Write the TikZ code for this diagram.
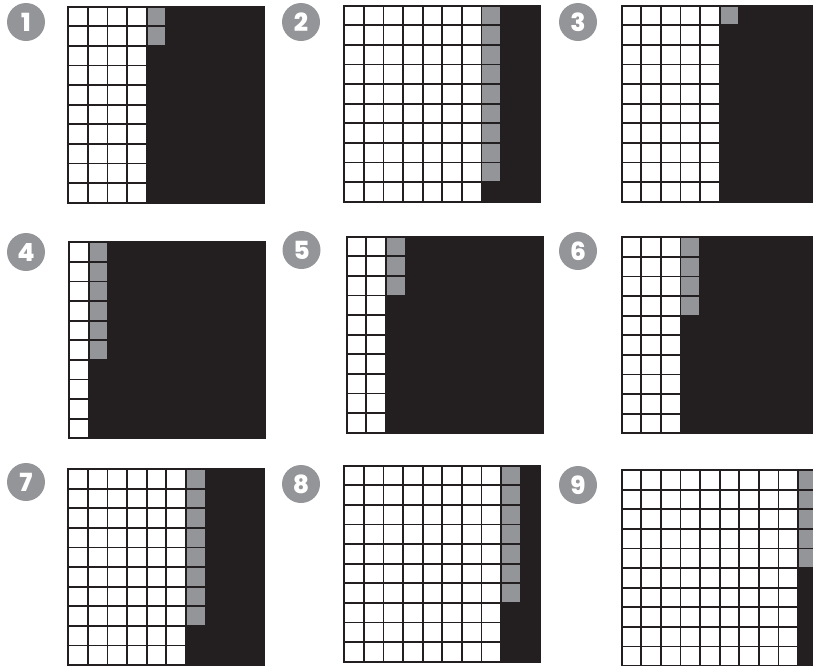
\documentclass[tikz,border=0pt]{standalone}
\usepackage{fontspec}
\newfontfamily\badgefont{Poppins ExtraBold}
\definecolor{inkblack}{HTML}{231F20}
\definecolor{cellgray}{HTML}{939598}

\begin{document}
\begin{tikzpicture}[
    x=1pt,y=-1pt,
    cell/.style={draw=inkblack, line width=1.8pt},
    blank/.style={cell, fill=white},
    shaded/.style={cell, fill=cellgray},
    darkarea/.style={cell, fill=inkblack},
    badge/.style={circle, fill=cellgray, minimum size=38pt, inner sep=0pt, text=white,
        font=\badgefont\fontsize{25}{25}\selectfont}
]
    \useasboundingbox (0,0) rectangle (813,665);
    \clip (0,0) rectangle (813,665);
    \def\cs{19.6}

    % panel number / top-left corner / white columns / gray cells / badge centre
    \foreach \n/\px/\py/\w/\g/\bx/\by in {
        1/68.3/6.7/4/2/26/22,
        2/344.3/5.7/7/9/301/22,
        3/621.7/5.7/5/1/578/22,
        4/69/242.3/1/6/26/252,
        5/346.7/236.7/2/3/301.5/250,
        6/621.7/237.3/3/4/578/251,
        7/68.3/469/6/8/26/482,
        8/344.3/465.7/8/7/301/484,
        9/621.7/470/9/5/578/485} {
        \draw[darkarea] (\px,\py) rectangle ++({10*\cs},{10*\cs});
        \foreach \c in {1,...,\w} {
            \foreach \r in {1,...,10} {
                \draw[blank] ({\px+(\c-1)*\cs},{\py+(\r-1)*\cs}) rectangle ++(\cs,\cs);
            }
        }
        \foreach \r in {1,...,\g} {
            \draw[shaded] ({\px+\w*\cs},{\py+(\r-1)*\cs}) rectangle ++(\cs,\cs);
        }
        \node[badge] (badge\n) at (\bx,\by) {\n};
    }
\end{tikzpicture}
\end{document}
